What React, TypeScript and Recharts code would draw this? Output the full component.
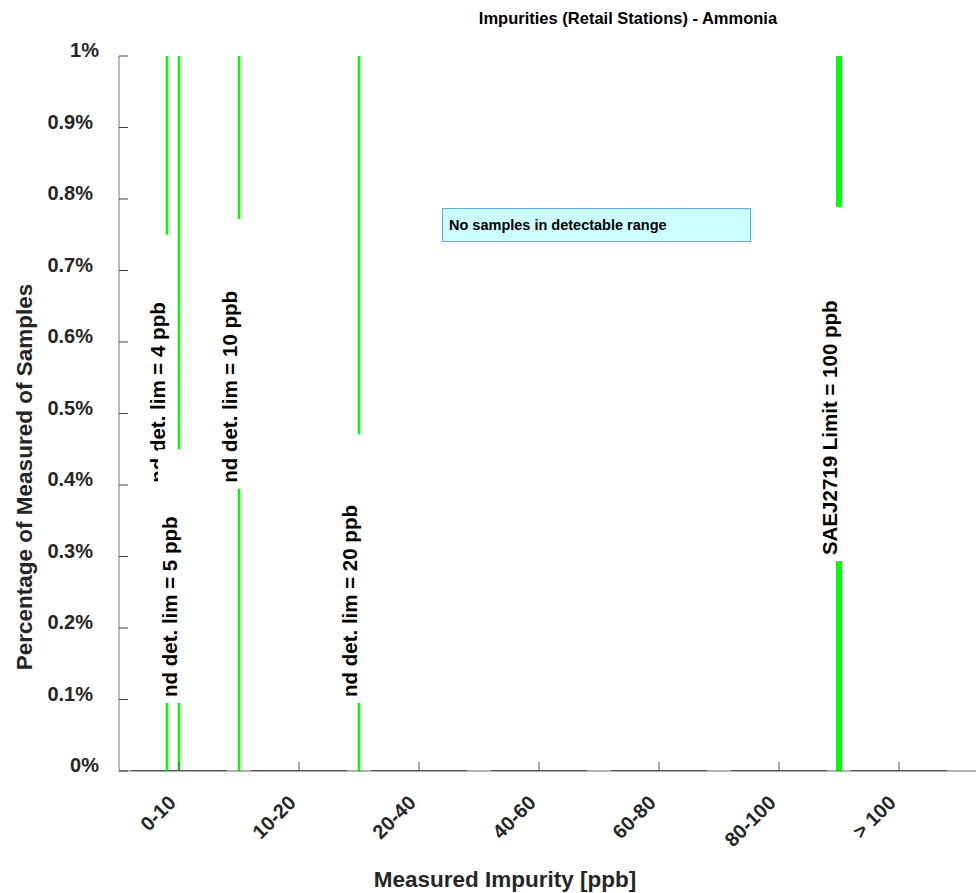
import { BarChart, Bar, XAxis, YAxis, ReferenceLine } from 'recharts'

// measured impurity bins (ppb) and share of samples in each (all empty)
const bins = ['0-10', '10-20', '20-40', '40-60', '60-80', '80-100', '> 100']
const binEdges = [0, 10, 20, 40, 60, 80, 100]
const samplePct = [0, 0, 0, 0, 0, 0, 0]
const yTicks = [0, 0.1, 0.2, 0.3, 0.4, 0.5, 0.6, 0.7, 0.8, 0.9, 1]

// detection limits / spec limit drawn as vertical markers
const limitPpb = [4, 5, 10, 20, 100]
const limitText = [
  'nd det. lim = 4 ppb',
  'nd det. lim = 5 ppb',
  'nd det. lim = 10 ppb',
  'nd det. lim = 20 ppb',
  'SAEJ2719 Limit = 100 ppb',
]

// where each rotated label sits along the line (in % units) and top of its white box
const labelFoot = [0.403, 0.1035, 0.403, 0.1035, 0.302]
const labelBoxTop = [0.75, 0.45, 0.772, 0.471, 0.789]

const FONT = '"Liberation Sans", Arial, Helvetica, sans-serif'
const INK = '#262626'

const data = bins.map((bin, i) => ({ pos: i, bin, pct: samplePct[i] }))
const binTicks = bins.map((_, i) => i)

// position of a ppb value on the bin axis (linear inside each bin)
function binPos(ppb: number) {
  for (let i = 0; i < binEdges.length - 1; i++) {
    const lo = binEdges[i]
    const hi = binEdges[i + 1]
    if (ppb <= hi) return i - 0.5 + (ppb - lo) / (hi - lo)
  }
  return binEdges.length - 1.5
}

const FlatBar = (p: any) => {
  const yy = p.y + (p.height || 0)
  return <line x1={p.x} x2={p.x + p.width} y1={yy} y2={yy} stroke="#000" strokeWidth={1.6} />
}

const BinTick = ({ x, y, payload }: any) => {
  const ax = x - 2
  const ay = y + 33
  return (
    <g>
      <line x1={x} x2={x} y1={y} y2={y - 9} stroke="#555" strokeWidth={1} />
      <text x={ax} y={ay} textAnchor="end" transform={`rotate(-45, ${ax}, ${ay})`}
        fontFamily={FONT} fontWeight="bold" fontSize={20} fill={INK}>
        {bins[payload.value]}
      </text>
    </g>
  )
}

const PctTick = ({ x, y, payload }: any) => {
  const label = `${payload.value}%`
  const endX = label.length <= 2 ? x - 20 : x - 26
  return (
    <g>
      <line x1={x} x2={x + 9} y1={y} y2={y} stroke="#444" strokeWidth={1} />
      <text x={endX} y={y + 1} textAnchor="end" fontFamily={FONT} fontWeight="bold" fontSize={20} fill={INK}>
        {label}
      </text>
    </g>
  )
}

const LimitLabel = ({ viewBox, i }: any) => {
  const { x, y, height } = viewBox
  const toPix = (v: number) => y + height * (1 - v)
  const foot = toPix(labelFoot[i])
  const top = toPix(labelBoxTop[i])
  const tx = x - 2
  return (
    <g>
      <rect x={x - 21} y={top} width={27} height={foot + 6 - top} fill="#fff" />
      <text x={tx} y={foot} textAnchor="start" transform={`rotate(-90, ${tx}, ${foot})`}
        fontFamily={FONT} fontWeight="bold" fontSize={20.5} fill="#000">
        {limitText[i]}
      </text>
    </g>
  )
}

export default function App() {
  return (
    <div style={{ position: 'absolute', left: 0, top: 0, width: 976, height: 893, fontFamily: FONT, background: '#fff' }}>
      <BarChart width={976} height={893} data={data} margin={{ top: 56, right: 0, bottom: 0, left: 0 }}>
        <XAxis dataKey="pos" type="number" domain={[-0.5, 6.5]} allowDataOverflow ticks={binTicks}
          height={122} padding={{ left: 0, right: 17 }}
          axisLine={{ stroke: '#666' }} tickLine={false} tickSize={0} tickMargin={0}
          interval={0} tick={<BinTick />} />
        <YAxis width={119} domain={[0, 1]} ticks={yTicks} allowDataOverflow
          axisLine={{ stroke: '#777' }} tickLine={false} tickSize={0} tickMargin={0}
          interval={0} tick={<PctTick />} />
        <Bar dataKey="pct" barSize={96} shape={<FlatBar />} isAnimationActive={false} />
        {limitPpb.map((ppb, i) => (
          <ReferenceLine key={ppb} x={binPos(ppb)} stroke="#00ff00"
            strokeWidth={ppb === 100 ? 6 : 2.6} ifOverflow="extendDomain"
            label={(props: any) => <LimitLabel {...props} i={i} />} />
        ))}
      </BarChart>

      <div style={{ position: 'absolute', left: 628, top: 18, transform: 'translate(-50%, -50%)',
        whiteSpace: 'nowrap', fontWeight: 'bold', fontSize: 16.5, color: '#000' }}>
        Impurities (Retail Stations) - Ammonia
      </div>

      <div style={{ position: 'absolute', left: 25, top: 477, transform: 'translate(-50%, -50%) rotate(-90deg)',
        whiteSpace: 'nowrap', fontWeight: 'bold', fontSize: 22.5, color: INK }}>
        Percentage of Measured of Samples
      </div>

      <div style={{ position: 'absolute', left: 505, top: 880, transform: 'translate(-50%, -50%)',
        whiteSpace: 'nowrap', fontWeight: 'bold', fontSize: 22.5, color: INK }}>
        Measured Impurity [ppb]
      </div>

      <div style={{ position: 'absolute', left: 442, top: 208, width: 309, height: 34, boxSizing: 'border-box',
        background: '#ccffff', border: '1px solid #5aaef0', paddingLeft: 6, display: 'flex', alignItems: 'center',
        fontWeight: 'bold', fontSize: 14.5, color: '#000', whiteSpace: 'nowrap' }}>
        No samples in detectable range
      </div>
    </div>
  )
}
